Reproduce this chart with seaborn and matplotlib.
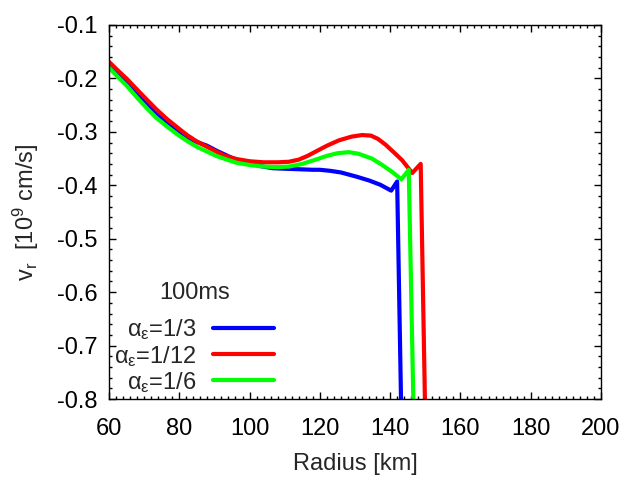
import numpy as np
import pandas as pd
import seaborn as sns
import matplotlib
matplotlib.use('Agg')
import matplotlib.pyplot as plt
from matplotlib.ticker import MultipleLocator

# radial velocity profiles at 100 ms
r_third = [60, 62.5, 65, 68, 70.8, 73.5, 76.5, 79.5, 82.2, 85, 87.9, 90.5, 93.1,
           96.4, 100, 103, 106.5, 110, 114, 118, 120, 123, 126, 130.5, 134,
           137.2, 140.3, 142.0, 143.1, 143.15]
v_third = [-0.175, -0.190, -0.207, -0.227, -0.247, -0.265, -0.281, -0.297, -0.311,
           -0.319, -0.326, -0.335, -0.343, -0.353, -0.359, -0.364, -0.368, -0.369,
           -0.370, -0.371, -0.371, -0.373, -0.376, -0.384, -0.391, -0.399, -0.410,
           -0.393, -0.800, -0.820]

r_twelfth = [60, 62.5, 65.1, 68, 70.8, 73.5, 76.5, 79.5, 82.2, 85, 87.9, 90.5, 93.1,
             96.4, 100, 104, 108, 111.2, 114, 116.5, 118.8, 122, 125.4, 129, 132,
             134.5, 136.5, 138.7, 141, 143.4, 146.3, 148.7, 149.9, 149.95]
v_twelfth = [-0.169, -0.185, -0.201, -0.221, -0.240, -0.258, -0.276, -0.292, -0.306,
             -0.318, -0.328, -0.337, -0.345, -0.351, -0.355, -0.357, -0.357, -0.356,
             -0.352, -0.345, -0.337, -0.326, -0.316, -0.309, -0.306, -0.307, -0.313,
             -0.324, -0.338, -0.353, -0.377, -0.360, -0.800, -0.820]

r_sixth = [60, 62.5, 65.1, 68, 70.8, 73.5, 76.5, 79.5, 82.2, 85, 87.9, 90.5, 93.1,
           96.4, 100, 104, 108, 111.2, 115, 118.8, 122, 125, 128.2, 131, 134.8,
           137.5, 140.6, 143.2, 145.3, 146.6, 146.65]
v_sixth = [-0.180, -0.197, -0.214, -0.236, -0.256, -0.274, -0.290, -0.305, -0.317,
           -0.328, -0.337, -0.345, -0.351, -0.358, -0.362, -0.365, -0.366, -0.365,
           -0.360, -0.352, -0.345, -0.340, -0.338, -0.341, -0.350, -0.361, -0.375,
           -0.389, -0.371, -0.800, -0.820]

labels = [r'α$_\mathrm{ε}$=1/3', r'α$_\mathrm{ε}$=1/12', r'α$_\mathrm{ε}$=1/6']
colors = ['#0000ff', '#ff0000', '#00ff00']

sns.set_style('ticks')
plt.rcParams['font.family'] = ['Liberation Sans', 'DejaVu Sans']
plt.rcParams['mathtext.fontset'] = 'custom'
plt.rcParams['mathtext.rm'] = 'Liberation Sans'
plt.rcParams['mathtext.it'] = 'Liberation Sans'

fs = 17
fig = plt.figure(figsize=(6.4, 4.8), dpi=100)
ax = fig.add_axes([0.1703, 0.16875, 0.7687, 0.7792])

for r, v, lab, c in zip([r_third, r_twelfth, r_sixth], [v_third, v_twelfth, v_sixth],
                        labels, colors):
    sns.lineplot(x=r, y=v, ax=ax, color=c, lw=3, label=lab, sort=False, estimator=None)

ax.set_xlim(60, 200)
ax.set_ylim(-0.8, -0.1)
ax.xaxis.set_major_locator(MultipleLocator(20))
ax.xaxis.set_minor_locator(MultipleLocator(2))
ax.yaxis.set_major_locator(MultipleLocator(0.1))
ax.yaxis.set_minor_locator(MultipleLocator(0.02))
ax.yaxis.set_major_formatter(matplotlib.ticker.FuncFormatter(lambda y, p: f'{y:.1f}'))
ax.tick_params(which='both', direction='in', top=True, right=True, labelsize=fs, width=1,
               colors='black')
ax.tick_params(which='major', length=5)
ax.tick_params(which='minor', length=2.5)
ax.tick_params(axis='x', which='major', pad=14)
ax.tick_params(axis='y', which='major', pad=8)
for s in ax.spines.values():
    s.set_linewidth(1)
    s.set_color('black')

ax.set_xlabel('Radius [km]', fontsize=fs, labelpad=9)
ax.set_ylabel(r'v$_\mathrm{r}$  [10$^9$ cm/s]', fontsize=fs, labelpad=12)

leg = ax.legend(title='100ms', markerfirst=False, frameon=False, fontsize=fs,
                title_fontsize=fs, handlelength=2.6, handletextpad=0.7,
                labelspacing=0.05, loc='lower left', bbox_to_anchor=(-0.033, -0.045))
leg._legend_box.sep = 10

fig.savefig('out.png', dpi=100)
